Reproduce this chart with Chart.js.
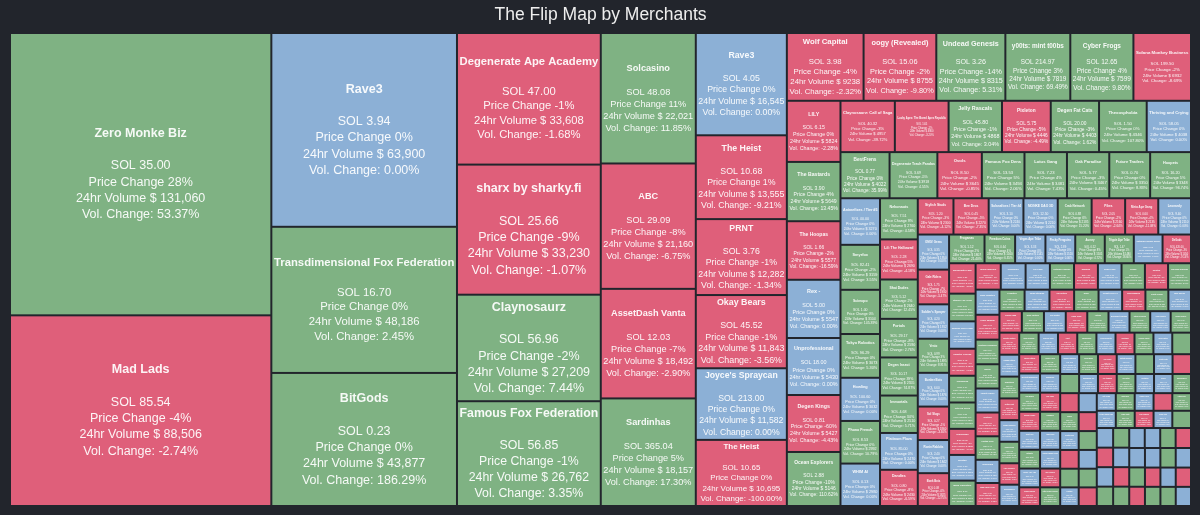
<!DOCTYPE html>
<html>
<head>
<meta charset="utf-8">
<title>The Flip Map by Merchants</title>
<script src="https://cdn.jsdelivr.net/npm/chart.js@4.4.1/dist/chart.umd.min.js"></script>
<style>
  html, body { margin: 0; padding: 0; background: #22252c; }
  #wrap { width: 1200px; height: 515px; }
</style>
</head>
<body>
<div id="wrap"><canvas id="flipChart"></canvas></div>
<script>
// ---- data (sorted by 24h volume, as the map is) ----
const names = [
  'Zero Monke Biz', 'Mad Lads', 'Rave3', 'Transdimensional Fox Federation', 'BitGods',
  'Degenerate Ape Academy', 'sharx by sharky.fi', 'Claynosaurz', 'Famous Fox Federation',
  'Solcasino', 'ABC', 'AssetDash Vanta', 'Sardinhas',
  'Rave3', 'The Heist', 'PRNT', 'Okay Bears', "Joyce's Spraycan", 'The Heist',
  'Wolf Capital', 'oogy (Revealed)', 'Undead Genesis', 'y00ts: mint t00bs', 'Cyber Frogs', 'Solana Monkey Business',
  'LILY', 'The Bastards', 'The Hoopas', 'Rex -', 'Unprofessional', 'Degen Kings', 'Ocean Explorers',
  'Claynosaurz: Call of Saga', 'Lucky Apes: The Bored Apes Republic', 'Jelly Rascals', 'Pixleton', 'Degen Fat Cats', 'Thexosphobia', 'Thriving and Crying',
  'BestFrens', 'Degenerate Trash Pandas', 'Ovols', 'Famous Fox Dens', 'Lotus Gang', 'Oak Paradise', 'Future Traders', 'Hoopets',
  'Animefixes / Tier #5', 'Smyrfox', 'Scimopo', 'Tokyo Robotics', 'Howling', 'Phono French', 'WHIM AI',
  'Nekonauts', 'Lil: The Hallowed', 'Shai Dudes', 'Portals', 'Degen Insect', 'Immortals', 'Platinum Plaza', 'Dandies',
  // small cells
  'Stylish Studs', 'Bee Dros', 'Solanafixes / Tier #4', 'MONKE DAO 3D', 'Crab Network', 'Pikes', 'Meta Ape Gang', 'Leonardy',
  'OMG! Gems', 'Gale Riders', "Soldier's Sprayer", 'Vesto', 'Bunker Bots', 'Sol Slugs', 'Ronin Rabbits', 'Bonk Bots', 'Froganas',
  'Freedom Coins', 'Vegas Ape Tribe', 'Pesky Penguins', 'Aurory', 'Trippin Ape Tribe', 'Catalina Whale Mixer', 'DeGods', 'Blocksmith Labs',
  'Stoned Ape Crew', 'Shadowy Super Coder', 'Galactic Geckos', 'Thugbirdz', 'Cets on Creck', 'Tensorians', 'Smyths', 'Bozo Collective', 'Sujiko Warriors', 'Nokiamon',
  'Lily Pads', 'Retardio Cousins', 'Mindfolk', 'Sharx Pups', 'Chads', 'Solstein', 'Boryoku Dragonz', 'Taiyo Robotics', 'Cyber Samurai', 'Reptilian Renegade',
  'Quekz', 'Lifinity Flares', 'Sentries', 'Portals Ivory', 'Honeyland', 'Mad Lads Gear', 'Primates', 'Jikan Studios', 'Sol Sisters', 'Elixir',
  'Ghost Kid DAO', 'Bold Badgers', 'Photo Finish', 'Mini Royale', 'Goblin Gang', 'Dark Hunters', 'The Suites', 'Flash Trade', 'Astrals', 'Blockasset Legends', 'Stepn Genesis',
  'Aiko Frames', 'Nyan Heroes', 'Bounty Hunters', 'Solana Kittens', 'Tombstoned', 'Critters Cult', 'Space Runners', 'Degen Dojo', 'Pixel Pioneers', 'Moonwalkers',
  'Shin Sengoku', 'Chicken Tribe', 'Frakt', 'Balloonsville', 'Grim Syndicate', 'Solsteads', 'Gooney Toons', 'Hello Pantha', 'Bohemia', 'Lucky Kittens',
  'Meerkat Millionaires', 'Sol Bears', 'Kaizen Corps', 'Just Ape', 'Bitbots', 'Cyber Ape Age', 'Dazed Ducks', 'Enviro Apes', 'Rakkudos', 'Fox Guild',
  'Solsaurs', 'Yaku Corp', 'Trash Pandas Gen2', 'The Lowlifes', 'Little Lemon Friends', 'Wonkey Monkey', 'Scum Bags', 'Ape Punks', 'Mutant Monkeys', 'Zaysan Raptors',
  'Great Goats', 'Sovana Egg', 'Cyber Pharmacist', 'Nakamigos Sol', 'OG Atadians', 'Sol Patrol', 'Abstratica', 'Grims', 'Moonlanderz', 'Pixel Bandits',
  'Owlies', 'Crypto Idolz', 'Utility Ape', 'Duck Punkz', 'Fractals', 'Sol Dogs', 'Mushrooms', 'Geckos Gen2', 'Ponzu', 'Rogue Sharks',
  'Pigs on Sol', 'Hot Heads', 'Wulf Pack', 'Galaxy Apes', 'Bears Reloaded', 'Lotus Kids', 'Degen Trash Kids', 'Oasis Cats', 'Tiny Dragons', 'Kong Club',
  'Tribe Tokens', 'Saga Monkes', 'Dead Rejects', 'Nomad Club', 'Cat Cartel', 'Potato Gang', 'Underworld Apes', 'Baby Apes', 'Marinade Chefs', 'Jelly Kids',
  'Bapes', 'Sol Kitties', 'Rex Pups', 'Heist Robots', 'Gen Zero', 'Fox Cubs', 'Ovol Eggs', 'Turtle Tribe', 'Sea Shanties', 'Clay Kids',
  'Solana Spaces', 'Space Cats', 'Retro Rascals', 'Pirate Ships', 'Mekka Froggos'
]

const floors = [
  35.00, 85.54, 3.94, 16.70, 0.23, 47.00, 25.66, 56.96, 56.85, 48.08, 29.09, 12.03, 365.04,
  4.05, 10.68, 3.76, 45.52, 213.00, 10.65, 3.98, 15.06, 3.26, 214.97, 12.65, 199.50,
  6.15, 3.90, 1.66, 5.00, 18.00, 0.81, 2.88, 40.32, 1.65, 45.80, 5.75, 20.00, 1.50, 58.05,
  0.77, 3.69, 8.50, 13.53, 7.23, 5.77, 0.70, 16.20, 40.00, 82.41, 1.00, 96.29, 100.60, 8.53, 0.13,
  7.51, 2.28, 5.12, 29.17, 10.17, 4.68, 85.00, 0.80,
  1.20, 0.45, 3.10, 12.50, 0.88, 2.05, 0.60, 9.40,
  0.35, 1.75, 4.20, 0.99, 6.60, 0.27, 2.40, 0.08, 1.12,
  0.64, 3.33, 2.89, 0.52, 1.47, 0.95, 420.00, 0.31,
  1.90, 7.15, 5.42, 0.74, 0.21, 11.30, 0.58, 2.66, 0.43, 1.05,
  0.19, 0.86, 4.75, 0.39, 2.12, 1.68, 0.28, 3.85, 0.71, 0.54,
  1.33, 0.25, 8.90, 0.47, 2.95, 6.20, 0.62, 1.15, 0.36, 0.83,
  0.29, 1.58, 0.44, 3.05, 0.17, 0.92, 5.10, 0.56, 2.30, 0.68, 1.26,
  0.41, 1.85, 0.33, 2.74, 0.66, 0.22, 4.10, 0.95, 1.38, 0.57,
  0.18, 3.25, 0.49, 1.07, 0.26, 2.18, 0.73, 0.39, 5.60, 0.84,
  0.31, 1.44, 0.62, 0.15, 2.55, 0.47, 1.91, 0.36, 0.79, 3.40,
  0.24, 1.16, 0.53, 0.88, 0.12, 2.02, 0.67, 0.45, 1.29, 0.34,
  0.93, 0.21, 1.72, 0.58, 0.27, 3.15, 0.76, 0.42, 1.03, 0.19,
  0.64, 2.37, 0.38, 0.85, 0.29, 1.54, 0.51, 0.23, 4.45, 0.71,
  0.35, 1.22, 0.48, 0.16, 2.86, 0.59, 0.97, 0.32, 1.63, 0.44,
  0.25, 0.81, 1.35, 0.54, 0.14, 2.21, 0.69, 0.37, 1.11, 0.28,
  0.92, 0.46, 1.78, 0.22, 0.63, 3.70, 0.41, 0.87, 0.33, 1.49,
  0.55, 0.18, 2.44, 0.74, 0.39
]

const priceChanges = [
  28, -4, 0, 0, 0, -1, -9, -2, -1, 11, -8, -7, 5,
  0, 1, -1, -1, 0, 0, -4, -2, -14, 3, 4, -2,
  0, 4, -2, 0, 0, -60, -10, -3, -1, -1, -5, -3, 0, 0,
  0, -5, -2, 5, 4, -3, 0, 5, 0, -2, 0, 0, 0, 0, 0,
  9, 5, 2, -8, 39, 34, 0, -8,
  -3, -5, 0, 0, 6, -2, -4, 0,
  0, -7, 0, 3, 0, -1, 0, -6, 2,
  4, 0, 0, 8, 1, 0, -3, -9,
  2, 0, -4, 5, 0, -2, 3, 0, -8, 1,
  0, 6, -3, 0, 2, -5, 0, 4, -1, 0,
  3, 0, -2, 7, 0, -6, 1, 0, -3, 2,
  0, -4, 5, 0, -1, 3, 0, -7, 2, 0, 4,
  0, 2, -3, 0, 5, -1, 0, 4, -6, 0,
  1, 0, -2, 3, 0, -5, 2, 0, 6, -1,
  0, 3, -4, 0, 1, 0, -2, 5, 0, -3,
  2, 0, 0, -7, 4, 0, 1, -2, 0, 3,
  0, -1, 6, 0, -4, 2, 0, 0, 3, -5,
  1, 0, -2, 4, 0, 0, -3, 2, 0, 5,
  -1, 0, 3, 0, -6, 1, 0, 2, -2, 0,
  4, 0, -3, 0, 1, 5, 0, -4, 2, 0,
  0, 3, -1, 0, 6, -2, 0, 1, 0, -5,
  2, 0, -3, 4, 0
]

const volumes = [
  131060, 88506, 63900, 48186, 43877, 33608, 33230, 27209, 26762, 22021, 21160, 18492, 18157,
  16545, 13555, 12282, 11843, 11582, 10695, 9238, 8755, 8315, 7819, 7599, 6932,
  5824, 5649, 5577, 5547, 5430, 5427, 5146, 4957, 4900, 4868, 4446, 4403, 4346, 4038,
  4022, 3918, 3645, 3494, 3481, 3467, 3350, 3348, 3270, 3159, 3104, 3073, 3032, 2992, 2980,
  2760, 2690, 2640, 2590, 2555, 2510, 2470, 2430,
  2300, 2270, 2240, 2210, 2185, 2160, 2135, 2110,
  1950, 1930, 1912, 1895, 1876, 1860, 1842, 1825, 1807,
  1560, 1545, 1520, 1505, 1480, 1466, 1450, 1432,
  1305, 1290, 1272, 1260, 1241, 1228, 1210, 1196, 1180, 1165,
  1140, 1131, 1120, 1108, 1097, 1085, 1076, 1064, 1053, 1042,
  1028, 1017, 1006, 995, 983, 974, 962, 951, 943, 935,
  902, 890, 878, 866, 855, 843, 832, 821, 810, 801, 790,
  780, 776, 773, 769, 766, 762, 758, 755, 751, 748,
  744, 741, 737, 734, 731, 727, 724, 721, 717, 714,
  711, 708, 705, 701, 698, 695, 692, 689, 686, 683,
  680, 677, 674, 671, 668, 665, 662, 659, 656, 653,
  651, 648, 645, 642, 640, 637, 634, 631, 629, 626,
  623, 621, 618, 615, 613, 610, 607, 605, 602, 600,
  597, 595, 592, 590, 587, 585, 582, 580, 577, 575,
  572, 570, 568, 565, 563, 561, 558, 556, 554, 551,
  549, 547, 545, 542, 540, 538, 536, 533, 531, 529,
  527, 525, 523, 521, 519
]

const volChanges = [
  53.37, -2.74, 0.00, 2.45, 186.29, -1.68, -1.07, 7.44, 3.35, 11.85, -6.75, -2.90, 17.30,
  0.00, -9.21, -1.34, -3.56, 0.00, -100.00, -2.32, -9.80, 5.31, 69.49, 9.80, -8.69,
  -2.28, 13.45, -16.59, 0.00, 0.00, -4.43, 110.62, -39.72, -3.20, 3.04, -4.49, 1.62, 107.80, 0.00,
  35.99, 4.55, -0.85, 2.06, 7.43, 0.45, 8.83, 96.74, 0.00, 3.55, 145.39, 5.30, 0.00, 10.79, 0.00,
  4.58, -4.18, 12.45, 2.76, 74.87, 5.71, 0.00, -6.59,
  -4.12, -7.35, 0.00, 0.00, 15.20, -2.64, -11.08, 0.00,
  0.00, -5.47, 0.00, 8.91, 0.00, -3.30, 0.00, -12.75, 21.40,
  6.35, 0.00, 0.00, 4.72, 18.60, 0.00, -9.14, -2.58,
  12.08, 0.00, -6.22, 3.14, 27.55, -1.96, 0.00, 9.63, -4.40, 0.00,
  0.00, 14.27, -3.85, 0.00, 7.90, -8.31, 2.46, 0.00, -0.94, 33.10,
  5.58, 0.00, -2.17, 11.45, 0.00, -6.88, 4.03, 0.00, -13.50, 1.87,
  0.00, -3.62, 19.35, 0.00, -7.04, 2.91, 0.00, -1.45, 8.27, 0.00, 6.12,
  0.00, 4.38, -2.95, 0.00, 12.66, -5.21, 0.00, 7.09, -9.77, 0.00,
  3.42, 0.00, -1.88, 16.30, 0.00, -4.65, 2.17, 0.00, 24.80, -3.09,
  0.00, 5.73, -6.41, 0.00, 9.15, 0.00, -2.33, 13.92, 0.00, -7.58,
  1.64, 0.00, 0.00, -11.20, 6.47, 0.00, 3.86, -1.52, 0.00, 18.04,
  0.00, -4.09, 10.33, 0.00, -8.66, 2.79, 0.00, 0.00, 5.21, -3.47,
  7.62, 0.00, -2.61, 14.85, 0.00, 0.00, -5.93, 3.28, 0.00, 21.56,
  -1.27, 0.00, 8.44, 0.00, -10.12, 4.96, 0.00, 2.35, -3.78, 0.00,
  11.09, 0.00, -6.04, 0.00, 1.98, 15.67, 0.00, -4.83, 6.71, 0.00,
  0.00, 9.42, -2.06, 0.00, 17.38, -7.15, 0.00, 3.57, 0.00, -5.29,
  4.14, 0.00, -3.36, 12.21, 0.00
]

const BG = '#22252c'
const GREEN = '#7fb283'
const RED = '#df5f7a'
const BLUE = '#8cb0d6'
const FONT = '"Liberation Sans", Arial, sans-serif'
// data space of the map (tiles are laid out in these units)
const MAP_W = 1181
const MAP_H = 470

function cellColor(i) {
  const v = volChanges[i] || 0
  if (v > 0) return GREEN
  if (v < 0) return RED
  return BLUE
}

function fmtVolume(v) {
  return v >= 10000 ? v.toLocaleString('en-US') : String(v)
}

function cellLines(i) {
  return [
    names[i] || '',
    '',
    'SOL ' + (floors[i] || 0).toFixed(2),
    'Price Change ' + (priceChanges[i] || 0) + '%',
    '24hr Volume $ ' + fmtVolume(volumes[i]),
    'Vol. Change: ' + (volChanges[i] || 0).toFixed(2) + '%'
  ]
}

// squarified layout (rows on the short side, aspect ratio 1)
function squarify(values, x0, y0, x1, y1) {
  const n = values.length
  const rects = new Array(n)
  let total = values.reduce((a, b) => a + b, 0)
  let i0 = 0
  while (i0 < n) {
    const dx = x1 - x0, dy = y1 - y0
    let i1 = i0
    let sum = values[i1++]
    let minV = sum, maxV = sum
    const alpha = Math.max(dy / dx, dx / dy) / total
    let beta = sum * sum * alpha
    let minRatio = Math.max(maxV / beta, beta / minV)
    for (; i1 < n; i1++) {
      const v = values[i1]
      sum += v
      if (v < minV) minV = v
      if (v > maxV) maxV = v
      beta = sum * sum * alpha
      const r = Math.max(maxV / beta, beta / minV)
      if (r > minRatio) { sum -= v; break }
      minRatio = r
    }
    if (dx < dy) {
      const h = total ? dy * sum / total : dy
      let x = x0
      for (let i = i0; i < i1; i++) {
        const w = dx * values[i] / sum
        rects[i] = { x0: x, y0: y0, x1: x + w, y1: y0 + h }
        x += w
      }
      y0 += h
    } else {
      const w = total ? dx * sum / total : dx
      let y = y0
      for (let i = i0; i < i1; i++) {
        const h = dy * values[i] / sum
        rects[i] = { x0: x0, y0: y, x1: x0 + w, y1: y + h }
        y += h
      }
      x0 += w
    }
    total -= sum
    i0 = i1
  }
  return rects
}

class FlipCell extends Chart.Element {
  static id = 'flipcell'
  static defaults = { backgroundColor: '#888888', borderWidth: 1 }

  draw(ctx) {
    const { x, y, w, h, options } = this
    const b = options.borderWidth
    ctx.save()
    ctx.fillStyle = options.backgroundColor
    ctx.fillRect(x + b, y + b, Math.max(0, w - 2 * b), Math.max(0, h - 2 * b))
    ctx.restore()
  }
}

class FlipMapController extends Chart.DatasetController {
  static id = 'flipmap'
  static defaults = { datasetElementType: false, dataElementType: 'flipcell' }
  static overrides = {
    scales: {
      x: { type: 'linear', display: false },
      y: { type: 'linear', display: false }
    },
    plugins: { legend: { display: false } }
  }

  update(mode) {
    const meta = this._cachedMeta
    this.updateElements(meta.data, 0, meta.data.length, mode)
  }

  updateElements(cells, start, count, mode) {
    const { xScale, yScale } = this._cachedMeta
    const values = this.getDataset().data
    const rects = squarify(values, xScale.min, yScale.min, xScale.max, yScale.max)
    for (let i = start; i < start + count; i++) {
      const r = rects[i]
      const px0 = xScale.getPixelForValue(r.x0), px1 = xScale.getPixelForValue(r.x1)
      const py0 = yScale.getPixelForValue(r.y0), py1 = yScale.getPixelForValue(r.y1)
      this.updateElement(cells[i], i, {
        x: Math.min(px0, px1),
        y: Math.min(py0, py1),
        w: Math.abs(px1 - px0),
        h: Math.abs(py1 - py0),
        options: this.resolveDataElementOptions(i, mode)
      }, mode)
    }
  }

  draw() {
    super.draw()
    const ctx = this.chart.ctx
    this._cachedMeta.data.forEach((cell, i) => drawCellText(ctx, cell, i))
  }
}

function drawCellText(ctx, cell, i) {
  const lines = cellLines(i)
  const base = 12.5
  ctx.save()
  ctx.font = 'bold ' + base + 'px ' + FONT
  let maxW = ctx.measureText(lines[0]).width
  ctx.font = base + 'px ' + FONT
  for (let k = 2; k < lines.length; k++) maxW = Math.max(maxW, ctx.measureText(lines[k]).width)
  const lh = base * 1.3
  const s = Math.min(1, (cell.w - 5) / maxW, (cell.h - 4) / (lines.length * lh))
  if (s > 0.12) {
    const size = base * s
    const step = lh * s
    const cx = cell.x + cell.w / 2
    let y = cell.y + cell.h / 2 - (lines.length - 1) * step / 2
    ctx.fillStyle = 'rgba(255,255,255,0.93)'
    ctx.textAlign = 'center'
    ctx.textBaseline = 'middle'
    lines.forEach((line, k) => {
      ctx.font = (k === 0 ? 'bold ' : '') + size + 'px ' + FONT
      if (line) ctx.fillText(line, cx, y)
      y += step
    })
  }
  ctx.restore()
}

Chart.register(FlipCell, FlipMapController)

const canvas = document.getElementById('flipChart')
const ctx = canvas.getContext('2d')

let flipChart = new Chart(ctx, {
  type: 'flipmap',
  data: {
    datasets: [{
      label: '24hr Volume',
      data: volumes,
      backgroundColor: c => cellColor(c.dataIndex),
      borderWidth: 1
    }]
  },
  options: {
    responsive: true,
    maintainAspectRatio: false,
    animation: false,
    events: [],
    layout: { padding: { left: 10, right: 9, top: 0, bottom: 9 } },
    scales: {
      x: { type: 'linear', display: false, min: 0, max: MAP_W },
      y: { type: 'linear', display: false, min: 0, max: MAP_H, reverse: true }
    },
    plugins: {
      legend: { display: false },
      tooltip: { enabled: false },
      title: {
        display: true,
        text: 'The Flip Map by Merchants',
        color: '#eeeeee',
        font: { family: FONT, size: 17.5, weight: 'normal' },
        padding: { top: 5, bottom: 7 }
      }
    }
  }
})
</script>
</body>
</html>
